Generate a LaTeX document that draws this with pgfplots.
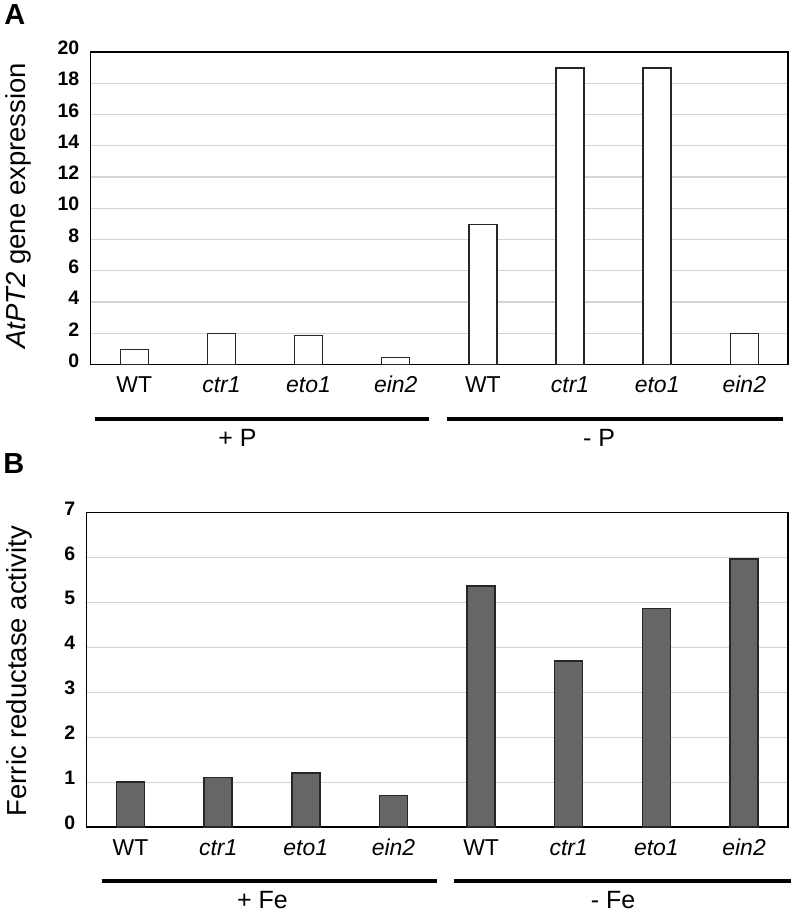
\documentclass[border=0pt]{standalone}
\usepackage{pgfplots}
\pgfplotsset{compat=1.18}
\usepackage{fontspec}
\setmainfont{Liberation Sans}
\definecolor{gridc}{HTML}{D4D4D4}
\definecolor{barB}{HTML}{666666}
\begin{document}
\begin{tikzpicture}[x=1pt,y=1pt]
\path (0pt,0pt) rectangle (793pt,-912pt);
\pgfplotsset{
  common/.style={
    scale only axis,
    ybar, bar shift=0pt,
    bar width=28pt,
    xmin=-0.5, xmax=7.5, ymin=0,
    xtick={0,1,2,3,4,5,6,7},
    xticklabels={WT,\textit{ctr1},\textit{eto1},\textit{ein2},WT,\textit{ctr1},\textit{eto1},\textit{ein2}},
    x tick label style={font=\fontsize{23}{23}\selectfont, anchor=base, yshift=-28pt},
    y tick label style={font=\bfseries\fontsize{19.5}{19.5}\selectfont, yshift=4pt, xshift=-8pt},
    /pgf/number format/assume math mode=true,
    major tick length=0pt,
    ymajorgrids, grid style={gridc, line width=1.2pt},
    axis line style={black, line width=1.4pt},
    clip=false,
  }
}
% Panel A
\begin{axis}[common, at={(89pt,-365pt)}, anchor=south west, width=698pt, height=313pt,
  ymax=20, ytick={0,2,...,20}]
\addplot[draw=black!85, line width=1.4pt, fill=white] coordinates {
 (0,0.96) (1,2.0) (2,1.85) (3,0.47) (4,8.95) (5,18.96) (6,18.96) (7,2.0)};
\end{axis}
% Panel B
\begin{axis}[common, at={(85pt,-828pt)}, anchor=south west, width=702pt, height=315pt,
  ymax=7, ytick={0,1,...,7}]
\addplot[draw=black!85, line width=1.4pt, fill=barB] coordinates {
 (0,1.0) (1,1.1) (2,1.2) (3,0.7) (4,5.36) (5,3.69) (6,4.86) (7,5.96)};
\end{axis}
% Panel letters
\node[font=\bfseries\fontsize{29}{29}\selectfont, anchor=center] at (13pt,-15pt) {A};
\node[font=\bfseries\fontsize{29}{29}\selectfont, anchor=center] at (12pt,-464pt) {B};
% y labels
\node[rotate=90, font=\fontsize{27.5}{27.5}\selectfont] at (17pt,-206pt) {\textit{AtPT2} gene expression};
\node[rotate=90, font=\fontsize{27.5}{27.5}\selectfont] at (18pt,-672pt) {Ferric reductase activity};
% group lines A
\draw[line width=4pt] (93pt,-419pt) -- (428pt,-419pt);
\draw[line width=4pt] (446pt,-419pt) -- (782pt,-419pt);
\node[font=\fontsize{25}{25}\selectfont] at (236pt,-438pt) {+ P};
\node[font=\fontsize{25}{25}\selectfont] at (598pt,-438pt) {- P};
% group lines B
\draw[line width=4pt] (100pt,-882pt) -- (436pt,-882pt);
\draw[line width=4pt] (453pt,-882pt) -- (790pt,-882pt);
\node[font=\fontsize{25}{25}\selectfont] at (261pt,-901pt) {+ Fe};
\node[font=\fontsize{25}{25}\selectfont] at (612pt,-901pt) {- Fe};
\end{tikzpicture}
\end{document}
